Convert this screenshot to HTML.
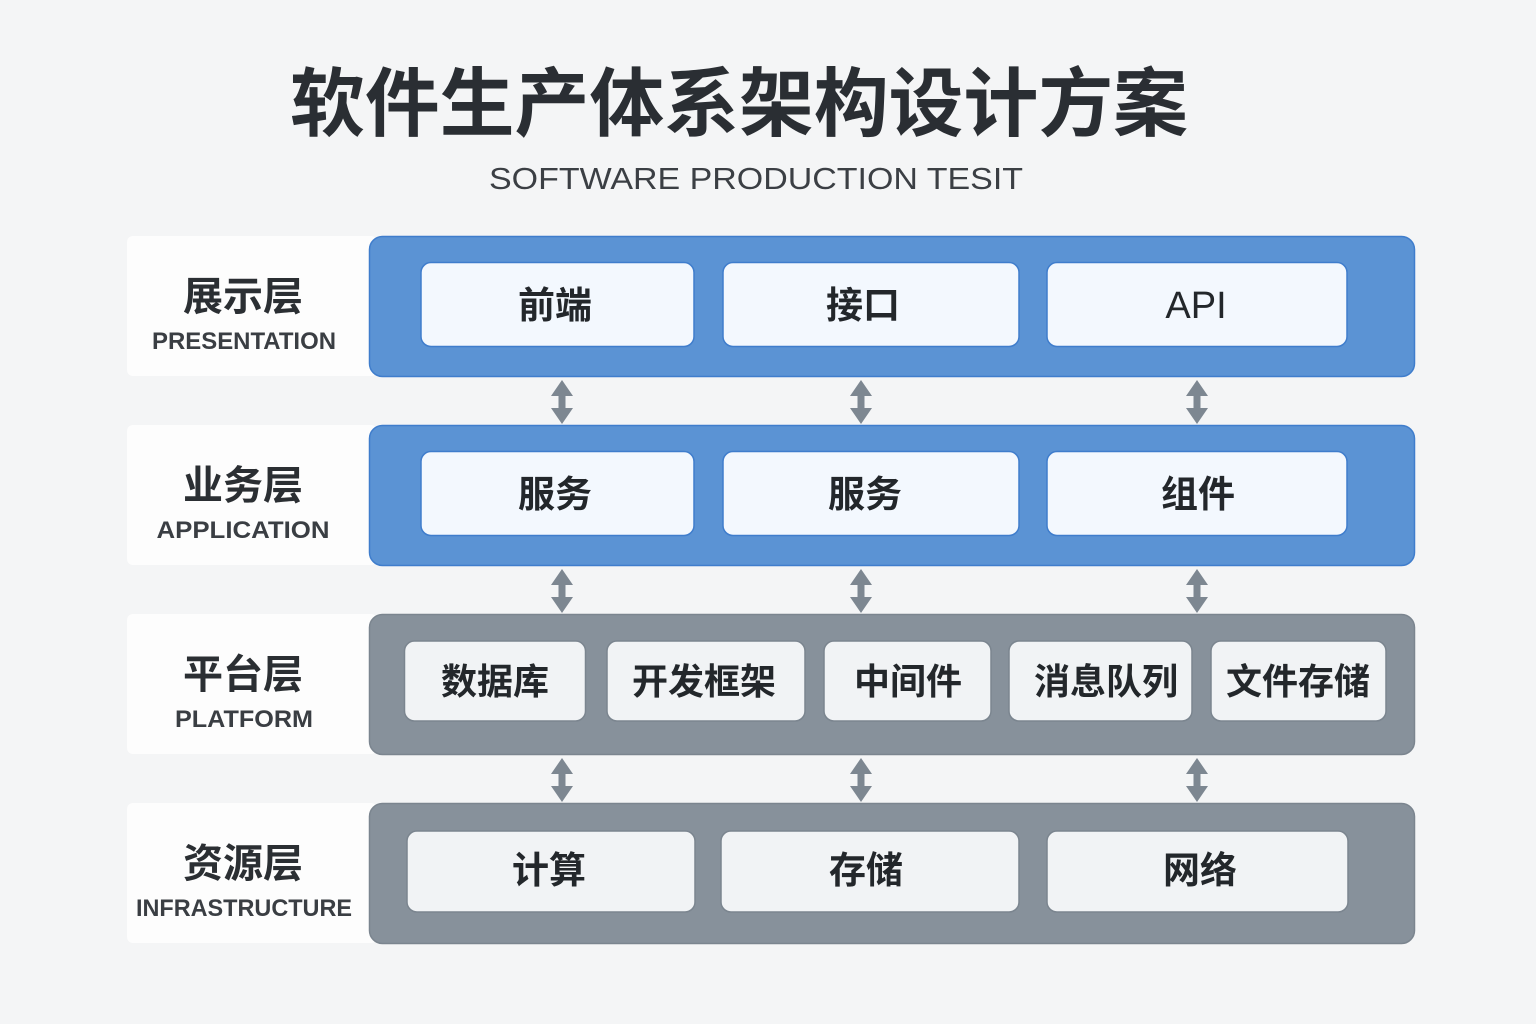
<!DOCTYPE html>
<html>
<head>
<meta charset="utf-8">
<style>
  html,body{margin:0;padding:0;background:#f4f5f6;}
  svg{display:block;}
  .cjk{font-family:"Liberation Sans","Noto Sans CJK SC",sans-serif;}
</style>
</head>
<body>
<svg width="1536" height="1024" viewBox="0 0 1536 1024" xmlns="http://www.w3.org/2000/svg">
  <rect x="0" y="0" width="1536" height="1024" fill="#f4f5f6"/>

  <!-- Title -->
  <text x="290" y="130" class="cjk" font-size="75" font-weight="700" fill="#2a2e33" textLength="898" lengthAdjust="spacingAndGlyphs" font-family="Liberation Sans, Noto Sans CJK SC, sans-serif">软件生产体系架构设计方案</text>
  <text x="489" y="189" font-size="31" font-weight="400" fill="#3b3f44" textLength="534" lengthAdjust="spacingAndGlyphs" font-family="Liberation Sans, sans-serif">SOFTWARE PRODUCTION TESIT</text>

  <!-- Left label panels -->
  <g fill="#fdfdfd">
    <rect x="127" y="236" width="250" height="140" rx="6"/>
    <rect x="127" y="425" width="250" height="140" rx="6"/>
    <rect x="127" y="614" width="250" height="140" rx="6"/>
    <rect x="127" y="803" width="250" height="140" rx="6"/>
  </g>

  <!-- Left labels -->
  <g font-family="Liberation Sans, Noto Sans CJK SC, sans-serif" fill="#2b2f33" text-anchor="middle">
    <text x="243" y="310" font-size="40" font-weight="700">展示层</text>
    <text x="244" y="349" font-size="24" font-weight="700" fill="#3a3e43" textLength="184" lengthAdjust="spacingAndGlyphs">PRESENTATION</text>
    <text x="243" y="499" font-size="40" font-weight="700">业务层</text>
    <text x="243" y="538" font-size="24" font-weight="700" fill="#3a3e43" textLength="173" lengthAdjust="spacingAndGlyphs">APPLICATION</text>
    <text x="243" y="688" font-size="40" font-weight="700">平台层</text>
    <text x="244" y="727" font-size="24" font-weight="700" fill="#3a3e43" textLength="138" lengthAdjust="spacingAndGlyphs">PLATFORM</text>
    <text x="243" y="877" font-size="40" font-weight="700">资源层</text>
    <text x="244" y="916" font-size="24" font-weight="700" fill="#3a3e43" textLength="216" lengthAdjust="spacingAndGlyphs">INFRASTRUCTURE</text>
  </g>

  <!-- Layer containers -->
  <rect x="369.5" y="236.5" width="1045" height="140" rx="13" fill="#5b93d4" stroke="#3f7dcc" stroke-width="1.5"/>
  <rect x="369.5" y="425.5" width="1045" height="140" rx="13" fill="#5b93d4" stroke="#3f7dcc" stroke-width="1.5"/>
  <rect x="369.5" y="614.5" width="1045" height="140" rx="13" fill="#87919b" stroke="#7b858f" stroke-width="1.5"/>
  <rect x="369.5" y="803.5" width="1045" height="140" rx="13" fill="#87919b" stroke="#7b858f" stroke-width="1.5"/>

  <!-- Row 1 boxes -->
  <g fill="#f3f8fe" stroke="#3f7dcc" stroke-width="1.5">
    <rect x="421" y="262.5" width="273" height="84" rx="10"/>
    <rect x="723" y="262.5" width="296" height="84" rx="10"/>
    <rect x="1047" y="262.5" width="300" height="84" rx="10"/>
    <rect x="421" y="451.5" width="273" height="84" rx="10"/>
    <rect x="723" y="451.5" width="296" height="84" rx="10"/>
    <rect x="1047" y="451.5" width="300" height="84" rx="10"/>
  </g>

  <!-- Row 3/4 boxes -->
  <g fill="#f1f3f5" stroke="#7b858f" stroke-width="1.5">
    <rect x="404.5" y="641" width="181" height="80" rx="10"/>
    <rect x="607" y="641" width="198" height="80" rx="10"/>
    <rect x="824" y="641" width="167" height="80" rx="10"/>
    <rect x="1009" y="641" width="183" height="80" rx="10"/>
    <rect x="1211" y="641" width="175" height="80" rx="10"/>
    <rect x="407" y="831" width="288" height="81" rx="10"/>
    <rect x="721" y="831" width="298" height="81" rx="10"/>
    <rect x="1047" y="831" width="301" height="81" rx="10"/>
  </g>

  <!-- Box labels -->
  <g font-family="Liberation Sans, Noto Sans CJK SC, sans-serif" fill="#23272b" text-anchor="middle" font-weight="700">
    <text x="555" y="318" font-size="37">前端</text>
    <text x="863" y="318" font-size="37">接口</text>
    <text x="1196" y="318" font-size="38" font-weight="400">API</text>
    <text x="555" y="507" font-size="37">服务</text>
    <text x="865" y="507" font-size="37">服务</text>
    <text x="1198" y="507" font-size="37">组件</text>

    <text x="495" y="694" font-size="36">数据库</text>
    <text x="704" y="694" font-size="36">开发框架</text>
    <text x="908" y="694" font-size="36">中间件</text>
    <text x="1106" y="694" font-size="36">消息队列</text>
    <text x="1298" y="694" font-size="36">文件存储</text>

    <text x="549" y="883" font-size="37">计算</text>
    <text x="866" y="883" font-size="37">存储</text>
    <text x="1200" y="883" font-size="37">网络</text>
  </g>

  <!-- Arrows -->
  <defs>
    <polygon id="arr" points="0,0 11,16 3.5,16 3.5,28 11,28 0,44 -11,28 -3.5,28 -3.5,16 -11,16" fill="#7d8791"/>
  </defs>
  <use href="#arr" x="562" y="380"/>
  <use href="#arr" x="861" y="380"/>
  <use href="#arr" x="1197" y="380"/>
  <use href="#arr" x="562" y="569"/>
  <use href="#arr" x="861" y="569"/>
  <use href="#arr" x="1197" y="569"/>
  <use href="#arr" x="562" y="758"/>
  <use href="#arr" x="861" y="758"/>
  <use href="#arr" x="1197" y="758"/>
</svg>
</body>
</html>
